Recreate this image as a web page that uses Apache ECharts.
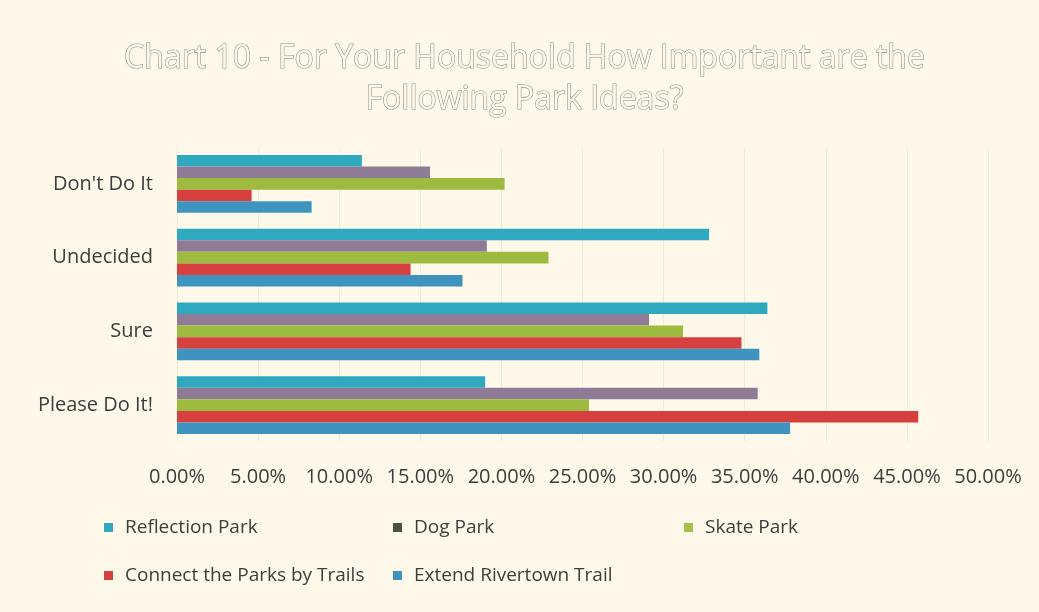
<!DOCTYPE html>
<html>
<head>
<meta charset="utf-8">
<title>Chart 10</title>
<script src="https://cdn.jsdelivr.net/npm/echarts@6/dist/echarts.min.js"></script>
<style>
  html, body { margin: 0; padding: 0; background: #fdf8ea; }
  #chart { width: 1039px; height: 612px; }
</style>
</head>
<body>
<div id="chart"></div>
<script>
// categories top to bottom
const categories = ["Don't Do It", 'Undecided', 'Sure', 'Please Do It!']
const seriesNames = ['Reflection Park', 'Dog Park', 'Skate Park', 'Connect the Parks by Trails', 'Extend Rivertown Trail']

// values in %, same order as categories
const reflectionPark = [11.4, 32.8, 36.4, 19.0]
const dogPark = [15.6, 19.1, 29.1, 35.8]
const skatePark = [20.2, 22.9, 31.2, 25.4]
const connectTrails = [4.6, 14.4, 34.8, 45.7]
const extendRivertown = [8.3, 17.6, 35.9, 37.8]

const barColors = ['#2ea9c0', '#8f7b96', '#9dbb3f', '#d6403f', '#3f94bf']
const legendColors = ['#2ea9c0', '#4b5142', '#a5c24a', '#d6403f', '#3f94bf']

const seriesData = [reflectionPark, dogPark, skatePark, connectTrails, extendRivertown]
const font = '"Open Sans", Lato, sans-serif'

const chart = echarts.init(document.getElementById('chart'))

// one legend per item so they sit in the same columns as the original
const legendPos = [
  { left: 99, top: 513 },
  { left: 388, top: 513 },
  { left: 679, top: 513 },
  { left: 99, top: 561 },
  { left: 388, top: 561 }
]

chart.setOption({
  backgroundColor: '#fdf8ea',
  title: {
    text: 'Chart 10 - For Your Household How Important are the\nFollowing Park Ideas?',
    left: '50%',
    top: 33,
    textAlign: 'center',
    textStyle: {
      fontFamily: font,
      fontSize: 32,
      fontWeight: 'normal',
      color: '#fcf7ea',
      textBorderColor: '#8e8e8a',
      textBorderWidth: 1.1,
      lineHeight: 41
    }
  },
  legend: legendPos.map((p, i) => ({
    left: p.left,
    top: p.top,
    itemWidth: 9,
    itemHeight: 9,
    itemGap: 6,
    icon: 'rect',
    selectedMode: false,
    textStyle: { fontFamily: font, fontSize: 19, color: '#3d3d3d', padding: [0, 0, 0, 7] },
    data: [{ name: seriesNames[i], itemStyle: { color: legendColors[i] } }]
  })),
  grid: {
    left: 177,
    right: 51,
    top: 147,
    bottom: 170
  },
  xAxis: {
    type: 'value',
    min: 0,
    max: 50,
    interval: 5,
    axisLine: { show: false },
    axisTick: { show: false },
    splitLine: { lineStyle: { color: '#f1ead7', width: 1 } },
    axisLabel: {
      margin: 25,
      fontFamily: font,
      fontSize: 20,
      color: '#3d3d3d',
      formatter: v => v.toFixed(2) + '%'
    }
  },
  yAxis: {
    type: 'category',
    inverse: true,
    data: categories,
    axisLine: { show: false },
    axisTick: { show: false },
    axisLabel: {
      margin: 24,
      fontFamily: font,
      fontSize: 20,
      color: '#3d3d3d'
    }
  },
  series: seriesNames.map((name, i) => ({
    name,
    type: 'bar',
    data: seriesData[i],
    barGap: '0%',
    barCategoryGap: '22%',
    itemStyle: { color: barColors[i] }
  }))
})
</script>
</body>
</html>
